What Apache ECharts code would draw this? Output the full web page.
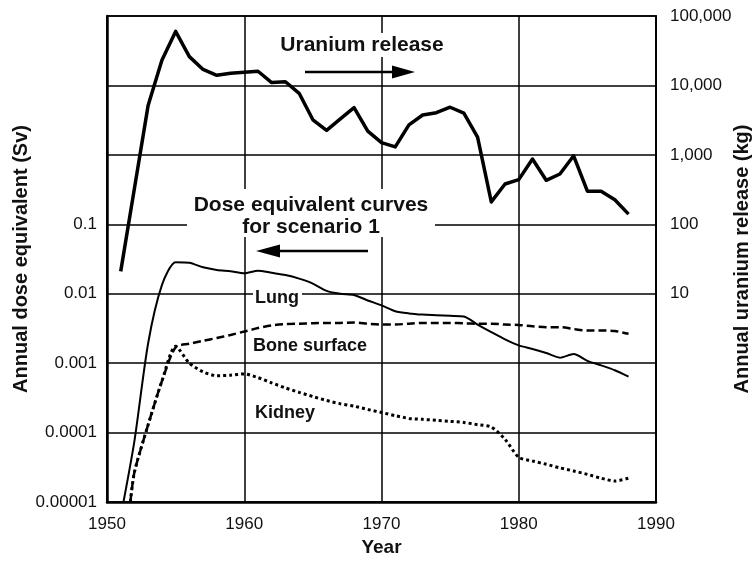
<!DOCTYPE html>
<html>
<head>
<meta charset="utf-8">
<script src="https://cdn.jsdelivr.net/npm/echarts@6/dist/echarts.min.js"></script>
<style>
  html, body { margin: 0; padding: 0; background: #fff; }
  #chart { width: 755px; height: 563px; }
</style>
</head>
<body>
<div id="chart"></div>
<script>
// Annual uranium release (kg), one value per year
const uraniumYears = [1951, 1952, 1953, 1954, 1955, 1956, 1957, 1958, 1959, 1960,
  1961, 1962, 1963, 1964, 1965, 1966, 1967, 1968, 1969, 1970,
  1971, 1972, 1973, 1974, 1975, 1976, 1977, 1978, 1979, 1980,
  1981, 1982, 1983, 1984, 1985, 1986, 1987, 1988];
const uranium = [21, 330, 5200, 23000, 60000, 26000, 17000, 14000, 15000, 15500,
  16000, 11000, 11300, 7700, 3200, 2250, 3300, 4800, 2200, 1500,
  1300, 2700, 3750, 4050, 4850, 4000, 1800, 210, 380, 440,
  870, 430, 530, 970, 300, 300, 225, 140];

// Annual dose equivalent (Sv), scenario 1
const lungYears = [1951.2, 1952, 1953, 1954, 1955, 1956, 1957, 1958, 1959, 1960,
  1961, 1962, 1963, 1964, 1965, 1966, 1967, 1968, 1969, 1970,
  1971, 1972, 1973, 1974, 1975, 1976, 1977, 1978, 1979, 1980,
  1981, 1982, 1983, 1984, 1985, 1986, 1987, 1988];
const lung = [0.00001, 0.000076, 0.00195, 0.0133, 0.0285, 0.028, 0.024, 0.022, 0.021, 0.0197,
  0.0215, 0.020, 0.0186, 0.0165, 0.014, 0.011, 0.0100, 0.0096, 0.0080, 0.0068,
  0.0056, 0.0052, 0.0050, 0.0049, 0.0048, 0.0047, 0.0036, 0.0028, 0.0022, 0.0018,
  0.0016, 0.0014, 0.0012, 0.00135, 0.00108, 0.00093, 0.00079, 0.00064];

const organYears = [1951.7, 1952, 1953, 1954, 1955, 1956, 1957, 1958, 1959, 1960,
  1961, 1962, 1963, 1964, 1965, 1966, 1967, 1968, 1969, 1970,
  1971, 1972, 1973, 1974, 1975, 1976, 1977, 1978, 1979, 1980,
  1981, 1982, 1983, 1984, 1985, 1986, 1987, 1988];
const boneSurface = [0.00001, 0.000027, 0.00013, 0.00055, 0.0017, 0.0019, 0.0021, 0.0023, 0.00255, 0.00285,
  0.0032, 0.0035, 0.00365, 0.0037, 0.00375, 0.0038, 0.0038, 0.00385, 0.0037, 0.0036,
  0.0036, 0.0037, 0.0038, 0.0038, 0.0038, 0.00375, 0.0037, 0.0037, 0.0036, 0.00355,
  0.0034, 0.0033, 0.0033, 0.0031, 0.00295, 0.00295, 0.0029, 0.00265];
const kidney = [0.00001, 0.000027, 0.00013, 0.00055, 0.00175, 0.0010, 0.00075, 0.00066, 0.00067, 0.00070,
  0.00062, 0.00052, 0.00044, 0.00038, 0.00033, 0.00029, 0.00026, 0.00024, 0.000215, 0.000195,
  0.000175, 0.00016, 0.000155, 0.00015, 0.000145, 0.00014, 0.00013, 0.00012, 0.00008, 0.000044,
  0.000039, 0.000035, 0.000031, 0.000028, 0.000025, 0.000022, 0.00002, 0.000022];

// Tick labels, indexed by decade
const doseTickLabels = ['0.00001', '0.0001', '0.001', '0.01', '0.1'];   // 1e-5 .. 1e-1
const releaseTickLabels = ['10', '100', '1,000', '10,000', '100,000'];   // 1e1 .. 1e5
const yearTicks = [1950, 1960, 1970, 1980, 1990];

const FONT = '"Liberation Sans", Arial, Helvetica, sans-serif';
const INK = '#111';

function pairs(xs, ys) { return xs.map((x, i) => [x, ys[i]]); }

const chart = echarts.init(document.getElementById('chart'), null, { renderer: 'canvas' });

const G = { left: 107, top: 16, right: 99, bottom: 61 };

chart.setOption({
  animation: false,
  backgroundColor: '#fff',
  grid: {
    left: G.left, top: G.top, right: G.right, bottom: G.bottom,
    outerBoundsMode: 'none', containLabel: false,
    show: true, borderColor: '#000', borderWidth: 1.5, backgroundColor: 'transparent'
  },
  xAxis: {
    type: 'value',
    min: yearTicks[0], max: yearTicks[yearTicks.length - 1], interval: 10,
    name: 'Year', nameLocation: 'middle', nameGap: 36, nameMoveOverlap: false,
    nameTextStyle: { fontFamily: FONT, fontWeight: 'bold', fontSize: 19, color: INK },
    axisLine: { show: true, lineStyle: { color: '#000', width: 2.5 } },
    axisTick: { show: false },
    axisLabel: { fontFamily: FONT, fontSize: 17, color: INK, margin: 14, formatter: v => String(v) },
    splitLine: { show: true, lineStyle: { color: '#000', width: 1.5 } }
  },
  yAxis: [
    {
      type: 'log', logBase: 10, min: 0.00001, max: 100, splitNumber: 7,
      position: 'left',
      name: 'Annual dose equivalent (Sv)', nameLocation: 'middle', nameRotate: 90, nameGap: 76,
      nameMoveOverlap: false,
      nameTextStyle: { fontFamily: FONT, fontWeight: 'bold', fontSize: 20, color: INK },
      axisLine: { show: true, lineStyle: { color: '#000', width: 2.5 } },
      axisTick: { show: false },
      axisLabel: {
        fontFamily: FONT, fontSize: 17, color: INK, margin: 10,
        formatter: v => {
          const i = Math.round(Math.log10(v)) + 5;
          return i >= 0 && i < doseTickLabels.length ? doseTickLabels[i] : '';
        }
      },
      splitLine: { show: true, lineStyle: { color: '#000', width: 1.5 } }
    },
    {
      type: 'log', logBase: 10, min: 0.01, max: 100000, splitNumber: 7,
      position: 'right',
      name: 'Annual uranium release (kg)', nameLocation: 'middle', nameRotate: 90, nameGap: 76,
      nameMoveOverlap: false,
      nameTextStyle: { fontFamily: FONT, fontWeight: 'bold', fontSize: 20, color: INK },
      axisLine: { show: true, lineStyle: { color: '#000', width: 2 } },
      axisTick: { show: false },
      axisLabel: {
        fontFamily: FONT, fontSize: 17, color: INK, margin: 14,
        formatter: v => {
          const i = Math.round(Math.log10(v)) - 1;
          return i >= 0 && i < releaseTickLabels.length ? releaseTickLabels[i] : '';
        }
      },
      splitLine: { show: false }
    }
  ],
  series: [
    {
      name: 'Uranium release', type: 'line', yAxisIndex: 1,
      data: pairs(uraniumYears, uranium), symbol: 'none', smooth: false,
      lineStyle: { color: '#000', width: 3.5, join: 'round' }, z: 5
    },
    {
      name: 'Lung', type: 'line', yAxisIndex: 0,
      data: pairs(lungYears, lung), symbol: 'none', smooth: 0.25,
      lineStyle: { color: '#000', width: 2 }, z: 4
    },
    {
      name: 'Bone surface', type: 'line', yAxisIndex: 0,
      data: pairs(organYears, boneSurface), symbol: 'none', smooth: 0.25,
      lineStyle: { color: '#000', width: 2.5, type: [8, 4] }, z: 4
    },
    {
      name: 'Kidney', type: 'line', yAxisIndex: 0,
      data: pairs(organYears, kidney), symbol: 'none', smooth: 0.25,
      lineStyle: { color: '#000', width: 3, type: [3, 3] }, z: 4
    }
  ],
  graphic: [
    // "Uranium release" caption with right-pointing arrow
    { type: 'rect', z: 50, shape: { x: 277, y: 33, width: 172, height: 24 }, style: { fill: '#fff' } },
    { type: 'text', z: 51, x: 362, y: 45,
      style: { text: 'Uranium release', font: 'bold 21px ' + FONT, fill: INK, textAlign: 'center', textVerticalAlign: 'middle' } },
    { type: 'line', z: 51, shape: { x1: 305, y1: 72, x2: 394, y2: 72 }, style: { stroke: '#000', lineWidth: 2.5 } },
    { type: 'polygon', z: 51, shape: { points: [[392, 65.5], [415, 72], [392, 78.5]] }, style: { fill: '#000' } },

    // Two-line caption for the dose curves, with left-pointing arrow
    { type: 'rect', z: 50, shape: { x: 187, y: 189, width: 248, height: 48 }, style: { fill: '#fff' } },
    { type: 'text', z: 51, x: 311, y: 205,
      style: { text: 'Dose equivalent curves', font: 'bold 21px ' + FONT, fill: INK, textAlign: 'center', textVerticalAlign: 'middle' } },
    { type: 'text', z: 51, x: 311, y: 227,
      style: { text: 'for scenario 1', font: 'bold 21px ' + FONT, fill: INK, textAlign: 'center', textVerticalAlign: 'middle' } },
    { type: 'line', z: 51, shape: { x1: 278, y1: 251, x2: 368, y2: 251 }, style: { stroke: '#000', lineWidth: 2.5 } },
    { type: 'polygon', z: 51, shape: { points: [[256, 251], [280, 244.5], [280, 257.5]] }, style: { fill: '#000' } },

    // Curve labels
    { type: 'rect', z: 50, shape: { x: 253, y: 288, width: 49, height: 20 }, style: { fill: '#fff' } },
    { type: 'text', z: 51, x: 255, y: 298,
      style: { text: 'Lung', font: 'bold 18px ' + FONT, fill: INK, textAlign: 'left', textVerticalAlign: 'middle' } },
    { type: 'text', z: 51, x: 253, y: 346,
      style: { text: 'Bone surface', font: 'bold 18px ' + FONT, fill: INK, textAlign: 'left', textVerticalAlign: 'middle' } },
    { type: 'text', z: 51, x: 255, y: 413,
      style: { text: 'Kidney', font: 'bold 18px ' + FONT, fill: INK, textAlign: 'left', textVerticalAlign: 'middle' } }
  ]
});
</script>
</body>
</html>
